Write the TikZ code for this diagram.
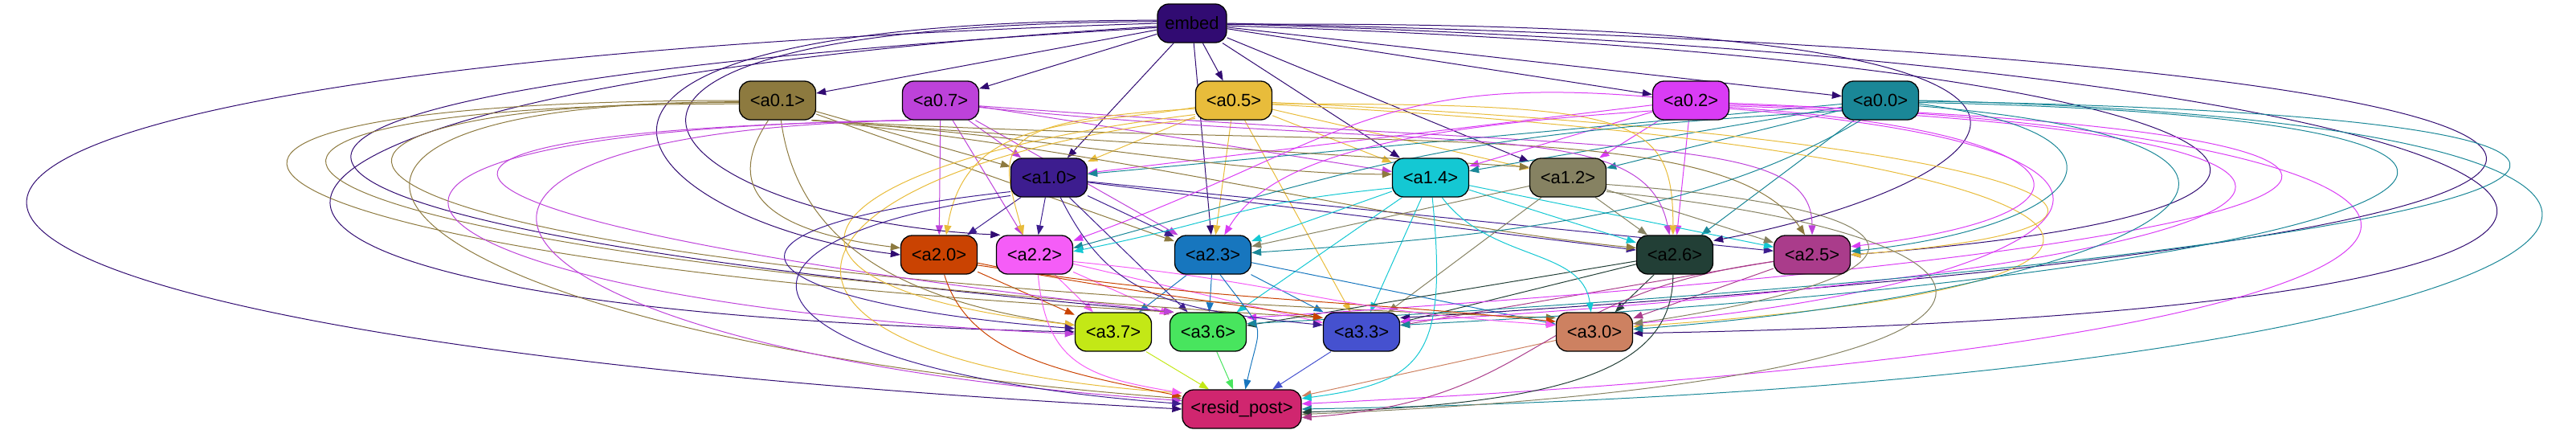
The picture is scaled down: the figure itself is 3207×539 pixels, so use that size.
\documentclass[tikz,border=0pt]{standalone}
\usepackage{fontspec}
\setmainfont{Liberation Sans}
\usetikzlibrary{arrows.meta}
\pgfdeclarelayer{edges}
\pgfsetlayers{edges,main}
\definecolor{cembed}{HTML}{310B72}
\definecolor{ca01}{HTML}{8D7A3F}
\definecolor{ca07}{HTML}{BD42DA}
\definecolor{ca05}{HTML}{E8BC3B}
\definecolor{ca02}{HTML}{DA3CF5}
\definecolor{ca00}{HTML}{1A8797}
\definecolor{ca10}{HTML}{3D1D8F}
\definecolor{ca14}{HTML}{14C8D3}
\definecolor{ca12}{HTML}{868262}
\definecolor{ca20}{HTML}{CA4302}
\definecolor{ca22}{HTML}{F55DF7}
\definecolor{ca23}{HTML}{1776BE}
\definecolor{ca26}{HTML}{223F36}
\definecolor{ca25}{HTML}{AA3C8B}
\definecolor{ca37}{HTML}{C3E816}
\definecolor{ca36}{HTML}{48E55E}
\definecolor{ca33}{HTML}{4551CF}
\definecolor{ca30}{HTML}{CD8161}
\definecolor{cresid}{HTML}{D0266F}
\tikzstyle{box}=[rectangle, rounded corners=14pt, draw=black, line width=1.3pt, minimum width=95pt, minimum height=48pt, inner sep=0pt, font=\fontsize{22}{26}\selectfont]
\tikzstyle{edge}=[line width=1pt, -{Triangle[length=12pt,width=9pt]}]

\begin{document}
\begin{tikzpicture}[x=1pt, y=-1pt]
    \useasboundingbox (0,0) rectangle (3207,539);
% Nodes
    \node[box, fill=cembed, minimum width=86pt] (embed) at (1484,29) {embed};
    \node[box, fill=ca01] (a01) at (968,125) {<a0.1>};
    \node[box, fill=ca07] (a07) at (1171,125) {<a0.7>};
    \node[box, fill=ca05] (a05) at (1536,125) {<a0.5>};
    \node[box, fill=ca02] (a02) at (2105,125) {<a0.2>};
    \node[box, fill=ca00] (a00) at (2341,125) {<a0.0>};
    \node[box, fill=ca10] (a10) at (1306,221) {<a1.0>};
    \node[box, fill=ca14] (a14) at (1781,221) {<a1.4>};
    \node[box, fill=ca12] (a12) at (1952,221) {<a1.2>};
    \node[box, fill=ca20] (a20) at (1169,317) {<a2.0>};
    \node[box, fill=ca22] (a22) at (1288,317) {<a2.2>};
    \node[box, fill=ca23] (a23) at (1510,317) {<a2.3>};
    \node[box, fill=ca26] (a26) at (2085,317) {<a2.6>};
    \node[box, fill=ca25] (a25) at (2256,317) {<a2.5>};
    \node[box, fill=ca37] (a37) at (1386,413) {<a3.7>};
    \node[box, fill=ca36] (a36) at (1504,413) {<a3.6>};
    \node[box, fill=ca33] (a33) at (1695,413) {<a3.3>};
    \node[box, fill=ca30] (a30) at (1985,413) {<a3.0>};
    \node[box, fill=cresid, minimum width=148pt] (resid) at (1546,509) {<resid\_post>};
% Edges
    \begin{pgfonlayer}{edges}
% Direct edges
    \foreach \src/\dst in {embed/a01, embed/a07, embed/a05, embed/a02, embed/a00,
        embed/a10, embed/a14, embed/a12, embed/a23,
        a01/a10, a01/a23,
        a07/a10, a07/a14, a07/a20, a07/a22, a07/a23,
        a05/a10, a05/a14, a05/a12, a05/a23, a05/a33,
        a02/a10, a02/a14, a02/a12, a02/a26,
        a00/a10, a00/a14, a00/a12, a00/a26,
        a10/a20, a10/a22, a10/a23, a10/a26, a10/a25, a10/a36,
        a14/a23, a14/a26, a14/a25, a14/a36, a14/a33,
        a12/a23, a12/a26, a12/a25, a12/a33,
        a20/a37, a22/a37, a22/a36, a22/a33,
        a23/a37, a23/a36, a23/a33, a23/a30,
        a26/a30, a26/a36, a26/a33, a25/a30, a25/a33,
        a37/resid, a36/resid, a33/resid, a30/resid}
        \draw[edge, color=c\src] (\src) -- (\dst);
% Bent and looping edges
    \foreach \src/\sa/\dst/\da/\ux/\uy/\vx/\vy in {
        embed/west/resid/west/-1895/60/-1895/-100,
        embed/185/a37/west/-1300/80/-1300/-30,
        embed/187/a36/150/-1350/80/-1350/-120,
        embed/175/a20/west/-900/0/-330/-40,
        embed/177/a22/150/-880/5/-420/-20,
        embed/-2/a26/20/1273/-11/368/-70,
        embed/-4/a25/east/1300/40/791/-60,
        embed/-1/a30/-2/1800/50/1680/-30,
        embed/0/a33/20/1880/40/1990/-120,
        a01/-30/a14/175/300/20/-200/0,
        a01/-30/a12/165/400/30/-300/-20,
        a01/245/a20/170/-60/90/-160/-20,
        a01/280/a37/170/20/150/-220/-30,
        a01/180/a36/150/-900/0/-1260/-70,
        a01/185/a33/160/-800/0/-1470/-90,
        a01/183/a30/160/-700/0/-1690/-60,
        a01/182/resid/170/-700/0/-1045/-80,
        a01/-30/a26/170/400/40/-300/-30,
        a01/-30/a25/110/700/40/-100/-150,
        a07/210/a37/183/-900/15/-870/-40,
        a07/212/a36/150/-800/15/-970/-110,
        a07/214/resid/172/-750/15/-900/-60,
        a07/-10/a26/105/600/60/-30/-150,
        a07/-8/a25/90/800/60/0/-130,
        a05/190/a20/70/-150/25/25/-150,
        a05/192/a22/120/-260/15/-30/-110,
        a05/-5/a26/95/450/0/0/-150,
        a05/-3/a25/east/900/40/513/-40,
        a05/-6/a30/8/1000/50/876/-60,
        a05/200/a37/170/-500/60/-444/-50,
        a05/205/resid/165/-560/70/-590/-40,
        a02/175/a22/20/-350/-30/330/-120,
        a02/195/a23/60/-300/20/60/-100,
        a02/-10/a25/12/450/30/342/-40,
        a02/-12/a30/12/650/50/560/-50,
        a02/-8/a33/15/900/30/1304/-80,
        a02/-6/a36/20/1000/30/1597/-100,
        a02/-4/resid/5/1100/40/1683/-80,
        a00/195/a22/10/-500/30/400/-110,
        a00/225/a23/3/-200/120/300/-20,
        a00/-5/a25/5/300/40/288/-30,
        a00/-8/a30/4/600/50/651/-50,
        a00/-3/a33/10/1000/20/1355/-70,
        a00/-1/a36/12/1250/20/1700/-90,
        a00/0/resid/0/1300/30/1680/-30,
        a10/200/a37/175/-450/50/-390/-30,
        a10/205/resid/175/-430/60/-537/-40,
        a10/-60/a33/170/60/120/-200/-20,
        a14/195/a22/5/-200/20/200/-40,
        a14/-60/a30/100/60/80/-10/-80,
        a14/-85/resid/10/20/200/150/-20,
        a12/-10/a30/12/420/30/401/-60,
        a12/-20/resid/-5/600/60/973/-40,
        a20/-12/a33/160/150/30/-200/-30,
        a20/-15/a30/165/300/45/-300/-30,
        a20/-75/resid/168/30/100/-150/-30,
        a22/-10/a30/170/300/30/-300/-20,
        a22/-80/resid/165/10/110/-120/-20,
        a23/-70/resid/80/60/80/20/-90,
        a26/-95/resid/-3/0/110/350/-10,
        a25/190/resid/-8/-300/40/300/-20}
        \draw[edge, color=c\src] (\src.\sa) .. controls +(\ux,\uy) and +(\vx,\vy) .. (\dst.\da);
    \end{pgfonlayer}
\end{tikzpicture}
\end{document}
